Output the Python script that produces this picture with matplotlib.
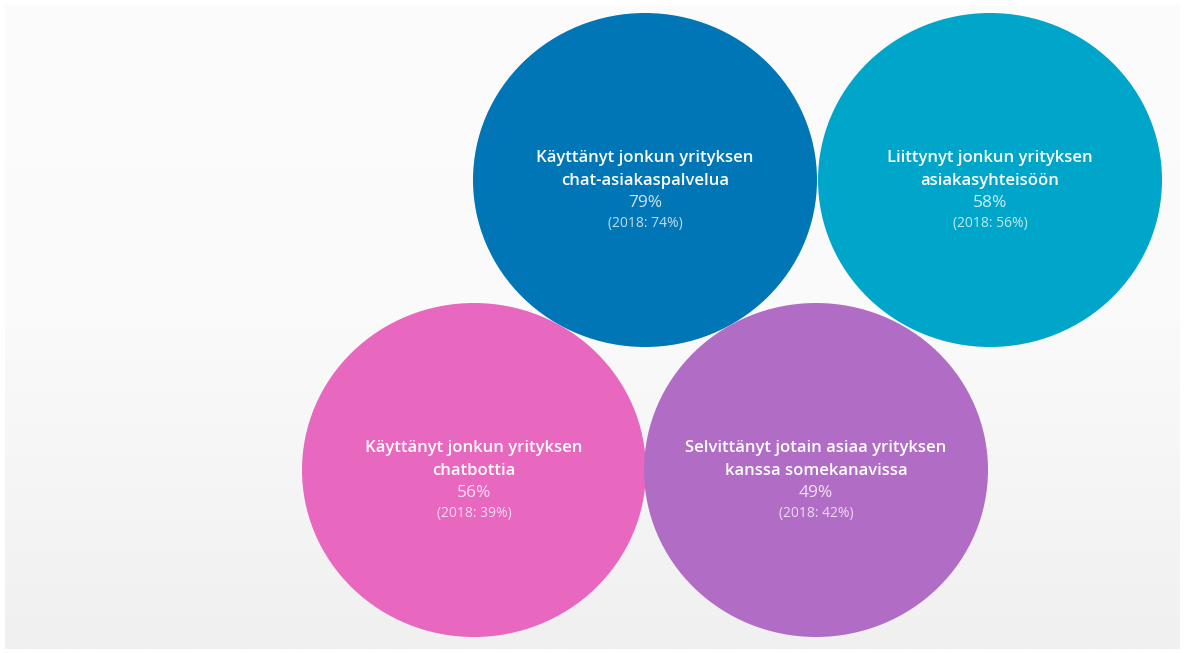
import numpy as np
import matplotlib
matplotlib.use("Agg")
import matplotlib.pyplot as plt
from matplotlib.colors import LinearSegmentedColormap
from matplotlib.patches import Ellipse

# Survey results: share of respondents (%) in 2019 and in 2018
labels = [
    "Käyttänyt jonkun yrityksen\nchat-asiakaspalvelua",
    "Liittynyt jonkun yrityksen\nasiakasyhteisöön",
    "Käyttänyt jonkun yrityksen\nchatbottia",
    "Selvittänyt jotain asiaa yrityksen\nkanssa somekanavissa",
]
share_now = [79, 58, 56, 49]
share_2018 = [74, 56, 39, 42]
colors = ["#0076b6", "#00a6c9", "#e867bf", "#b16dc5"]

W, H = 1184, 653
fig = plt.figure(figsize=(W / 100, H / 100), dpi=100)
ax = fig.add_axes([0, 0, 1, 1])
ax.set_xlim(0, W)
ax.set_ylim(H, 0)
ax.axis("off")

# soft panel background: white at top fading to light grey
grad = np.linspace(0, 1, 256)[:, None]
panel = LinearSegmentedColormap.from_list("panel", ["#fcfcfc", "#fafafa", "#f0f0f0"])
ax.imshow(grad, cmap=panel, extent=(5, W - 4, H - 4, 5), aspect="auto", zorder=0)

# bubble layout: two on top, two below offset to the left
centres = [(645, 180), (990, 180), (474, 470), (816, 470)]
rx, ry = 172, 167

font = "Open Sans"
for (cx, cy), lab, now, old, col in zip(centres, labels, share_now, share_2018, colors):
    ax.add_patch(Ellipse((cx, cy), 2 * rx, 2 * ry, facecolor=col, edgecolor="none", zorder=2))
    line1, line2 = lab.split("\n")
    ax.text(cx, cy - 22, line1, ha="center", va="center", color="white",
            fontsize=12, family=font, weight="semibold", zorder=3)
    ax.text(cx, cy + 1, line2, ha="center", va="center", color="white",
            fontsize=12, family=font, weight="semibold", zorder=3)
    ax.text(cx, cy + 23, f"{now}%", ha="center", va="center", color="white",
            alpha=0.8, fontsize=12.5, family=font, zorder=3)
    ax.text(cx, cy + 43, f"(2018: {old}%)", ha="center", va="center", color="white",
            alpha=0.75, fontsize=10, family=font, zorder=3)

fig.savefig("out.png", dpi=100)
